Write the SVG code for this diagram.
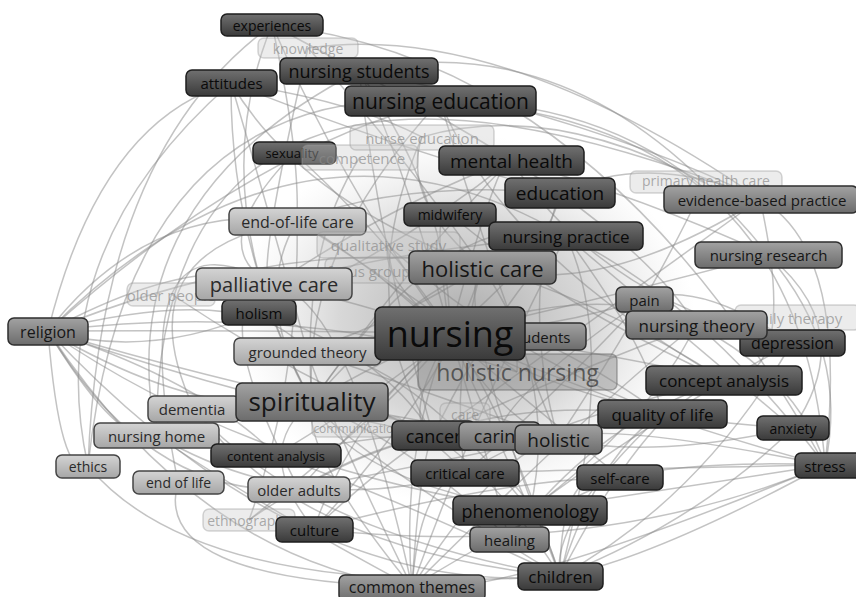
<svg xmlns="http://www.w3.org/2000/svg" width="856" height="597" viewBox="0 0 856 597">
<defs>
<linearGradient id="gd" x1="0" y1="0" x2="0" y2="1"><stop offset="0" stop-color="#707070"/><stop offset="1" stop-color="#3a3a3a"/></linearGradient>
<linearGradient id="gm" x1="0" y1="0" x2="0" y2="1"><stop offset="0" stop-color="#a2a2a2"/><stop offset="1" stop-color="#6c6c6c"/></linearGradient>
<linearGradient id="gl" x1="0" y1="0" x2="0" y2="1"><stop offset="0" stop-color="#d4d4d4"/><stop offset="1" stop-color="#a6a6a6"/></linearGradient>
<radialGradient id="tex" cx="0.5" cy="0.5" r="0.5"><stop offset="0" stop-color="#8a8a8a" stop-opacity="0.7"/><stop offset="0.55" stop-color="#a8a8a8" stop-opacity="0.45"/><stop offset="1" stop-color="#d0d0d0" stop-opacity="0"/></radialGradient>
<style>
text{font-family:"Open Sans","Noto Sans","DejaVu Sans",sans-serif;text-anchor:middle;dominant-baseline:central}
.d rect{fill:url(#gd);stroke:#1e1e1e;stroke-width:1.5}
.d text{fill:#0a0a0a}
.m rect{fill:url(#gm);stroke:#2e2e2e;stroke-width:1.5}
.m text{fill:#161616}
.l rect{fill:url(#gl);stroke:#444;stroke-width:1.5}
.l text{fill:#2a2a2a}
.f rect{fill:#c8c8c8;fill-opacity:0.35;stroke:#999;stroke-opacity:0.4;stroke-width:1.5}
.f text{fill:#8a8a8a;fill-opacity:0.7}
.h rect{fill:#8a8a8a;fill-opacity:0.45;stroke:#666;stroke-opacity:0.5;stroke-width:1.5}
.h text{fill:#3e3e3e;fill-opacity:0.8}
#edges path{fill:none;stroke:#888;stroke-width:1.5;stroke-opacity:0.5}
</style>
</defs>
<rect width="856" height="597" fill="#ffffff"/>
<ellipse cx="465" cy="320" rx="230" ry="185" fill="url(#tex)"/>
<g id="edges">
<path d="M48 331 Q150 200 297 221"/><path d="M48 331 Q200 250 274 284"/><path d="M48 331 Q250 330 450 333"/>
<path d="M48 331 Q200 420 312 402"/><path d="M48 331 Q120 450 156 435"/><path d="M48 331 Q150 500 299 489"/>
<path d="M48 331 Q250 150 440 101"/><path d="M48 331 Q300 230 482 267"/><path d="M48 331 Q200 560 412 587"/>
<path d="M48 331 Q300 600 560 576"/><path d="M48 331 Q350 420 558 439"/><path d="M48 331 Q100 120 231 83"/>
<path d="M48 331 Q300 80 566 236"/><path d="M48 331 Q250 280 307 351"/><path d="M48 331 Q60 480 88 466"/>
<path d="M48 331 Q150 360 259 312"/><path d="M48 331 Q250 400 433 435"/><path d="M48 331 Q300 300 517 372"/>
<path d="M48 331 Q250 470 530 510"/><path d="M48 331 Q200 380 276 455"/>
<path d="M88 466 Q40 250 231 83"/><path d="M88 466 Q100 150 272 25"/><path d="M156 435 Q110 200 359 71"/>
<path d="M178 482 Q150 580 412 587"/><path d="M88 466 Q200 600 560 576"/><path d="M194 409 Q120 250 297 221"/>
<path d="M156 435 Q160 -40 760 199"/><path d="M88 466 Q130 80 440 101"/><path d="M178 482 Q120 200 274 284"/>
<path d="M194 409 Q300 550 560 576"/><path d="M156 435 Q300 520 465 473"/>
<path d="M272 25 Q200 200 312 402"/><path d="M272 25 Q350 200 450 333"/><path d="M231 83 Q230 250 312 402"/>
<path d="M231 83 Q300 200 482 267"/><path d="M231 83 Q400 150 560 193"/><path d="M359 71 Q450 200 450 333"/>
<path d="M359 71 Q600 120 760 199"/><path d="M359 71 Q550 30 705 183"/><path d="M440 101 Q650 100 768 255"/>
<path d="M440 101 Q800 120 825 465"/><path d="M440 101 Q300 250 312 402"/><path d="M440 101 Q500 300 558 439"/>
<path d="M308 48 Q500 20 760 199"/><path d="M308 48 Q250 300 274 284"/><path d="M272 25 Q600 60 825 465"/>
<path d="M272 25 Q300 150 297 221"/><path d="M272 25 Q450 120 511 160"/><path d="M231 83 Q350 100 422 137"/>
<path d="M359 71 Q380 250 433 435"/><path d="M308 48 Q400 150 482 267"/><path d="M231 83 Q280 250 307 351"/>
<path d="M825 465 Q850 250 760 199"/><path d="M825 465 Q700 300 566 236"/><path d="M825 465 Q650 420 450 333"/>
<path d="M825 465 Q600 500 530 510"/><path d="M825 465 Q650 560 560 576"/><path d="M825 465 Q800 380 696 325"/>
<path d="M825 465 Q700 460 620 477"/><path d="M825 465 Q500 600 412 587"/><path d="M793 428 Q700 350 566 236"/>
<path d="M793 428 Q600 420 450 333"/><path d="M793 428 Q700 520 560 576"/><path d="M768 255 Q600 300 450 333"/>
<path d="M768 255 Q850 350 825 465"/><path d="M760 199 Q600 300 482 267"/><path d="M760 199 Q800 380 724 380"/>
<path d="M760 199 Q550 350 433 435"/><path d="M792 343 Q600 300 511 160"/><path d="M792 343 Q650 420 530 510"/>
<path d="M724 380 Q600 350 450 333"/><path d="M724 380 Q500 250 440 101"/><path d="M662 414 Q500 300 450 333"/>
<path d="M662 414 Q550 520 560 576"/><path d="M644 299 Q550 330 450 333"/><path d="M793 428 Q860 330 768 255"/>
<path d="M825 465 Q600 420 558 439"/><path d="M825 465 Q550 470 465 473"/><path d="M793 428 Q650 460 558 439"/>
<path d="M768 255 Q650 200 511 160"/><path d="M760 199 Q650 150 560 193"/><path d="M792 343 Q700 280 644 299"/>
<path d="M560 576 Q500 400 450 333"/><path d="M560 576 Q350 450 312 402"/><path d="M560 576 Q650 400 724 380"/>
<path d="M560 576 Q400 500 276 455"/><path d="M560 576 Q450 300 482 267"/><path d="M560 576 Q600 450 662 414"/>
<path d="M560 576 Q300 530 194 409"/><path d="M560 576 Q700 500 792 343"/><path d="M560 576 Q620 350 566 236"/>
<path d="M560 576 Q560 460 620 477"/><path d="M560 576 Q520 450 465 473"/><path d="M560 576 Q500 480 433 435"/>
<path d="M412 587 Q400 450 450 333"/><path d="M412 587 Q300 450 312 402"/><path d="M412 587 Q500 450 558 439"/>
<path d="M412 587 Q250 500 156 435"/><path d="M412 587 Q600 400 696 325"/><path d="M412 587 Q350 300 274 284"/>
<path d="M412 587 Q480 400 566 236"/><path d="M412 587 Q420 480 465 473"/><path d="M412 587 Q420 460 433 435"/>
<path d="M412 587 Q520 520 620 477"/><path d="M412 587 Q330 420 307 351"/>
<path d="M314 529 Q350 420 450 333"/><path d="M314 529 Q250 450 312 402"/><path d="M314 529 Q500 480 620 477"/>
<path d="M314 529 Q450 380 482 267"/><path d="M314 529 Q600 560 825 465"/><path d="M314 529 Q400 450 433 435"/>
<path d="M299 489 Q380 400 450 333"/><path d="M299 489 Q500 450 662 414"/><path d="M299 489 Q200 300 274 284"/>
<path d="M299 489 Q420 420 499 436"/><path d="M276 455 Q400 380 450 333"/><path d="M276 455 Q450 420 558 439"/>
<path d="M249 520 Q350 450 433 435"/><path d="M249 520 Q400 400 450 333"/><path d="M249 520 Q300 380 297 221"/>
<path d="M509 539 Q480 430 450 333"/><path d="M509 539 Q600 420 724 380"/><path d="M509 539 Q420 450 312 402"/>
<path d="M530 510 Q480 400 450 333"/><path d="M530 510 Q350 480 312 402"/><path d="M530 510 Q400 350 307 351"/>
<path d="M530 510 Q560 380 482 267"/><path d="M530 510 Q650 420 696 325"/>
<path d="M465 473 Q400 400 312 402"/><path d="M465 473 Q550 400 644 299"/><path d="M465 473 Q450 380 482 267"/>
<path d="M450 333 Q350 250 297 221"/><path d="M450 333 Q400 150 359 71"/><path d="M450 333 Q500 150 511 160"/>
<path d="M450 333 Q550 250 560 193"/><path d="M450 333 Q600 280 696 325"/><path d="M450 333 Q380 360 312 402"/>
<path d="M450 333 Q350 300 274 284"/><path d="M450 333 Q500 420 558 439"/><path d="M450 333 Q430 200 450 214"/>
<path d="M450 333 Q400 420 433 435"/><path d="M312 402 Q400 300 482 267"/><path d="M312 402 Q450 200 566 236"/>
<path d="M312 402 Q500 450 662 414"/><path d="M312 402 Q250 300 297 221"/><path d="M274 284 Q400 250 566 236"/>
<path d="M274 284 Q400 200 511 160"/><path d="M482 267 Q600 300 724 380"/><path d="M482 267 Q400 200 422 137"/>
<path d="M297 221 Q400 180 560 193"/><path d="M294 153 Q400 250 450 333"/><path d="M294 153 Q200 250 274 284"/>
<path d="M360 157 Q300 250 312 402"/><path d="M422 137 Q550 100 705 183"/><path d="M511 160 Q650 250 696 325"/>
<path d="M566 236 Q650 350 662 414"/><path d="M705 183 Q650 300 558 439"/><path d="M171 294 Q300 380 433 435"/>
<path d="M450 333 Q380 280 388 245"/><path d="M450 333 Q520 300 517 372"/><path d="M307 351 Q400 320 482 267"/>
<path d="M307 351 Q450 400 558 439"/><path d="M259 312 Q380 350 433 435"/><path d="M259 312 Q400 250 511 160"/>
<path d="M297 221 Q420 300 517 372"/><path d="M388 245 Q500 350 662 414"/><path d="M560 193 Q520 300 558 439"/>
<path d="M566 236 Q500 300 433 435"/><path d="M511 160 Q420 250 312 402"/><path d="M450 214 Q550 300 724 380"/>
<path d="M422 137 Q350 300 433 435"/><path d="M372 270 Q500 380 620 477"/><path d="M644 299 Q500 400 499 436"/>
<path d="M696 325 Q550 380 433 435"/><path d="M724 380 Q550 420 465 473"/><path d="M662 414 Q520 400 433 435"/>
</g>
<g id="n-knowledge" class="f"><rect x="258" y="38" width="100" height="20" rx="6"/><text x="308" y="48" font-size="14">knowledge</text></g>
<g id="n-experiences" class="d"><rect x="221" y="14" width="102" height="22" rx="6"/><text x="272" y="25" font-size="14">experiences</text></g>
<g id="n-attitudes" class="d"><rect x="186" y="70" width="91" height="26" rx="6"/><text x="231.5" y="83" font-size="15">attitudes</text></g>
<g id="n-nursing-students" class="d"><rect x="280" y="58" width="158" height="26" rx="6"/><text x="359" y="71" font-size="18">nursing students</text></g>
<g id="n-nursing-education" class="d"><rect x="345" y="86" width="191" height="30" rx="6"/><text x="440.5" y="101" font-size="21">nursing education</text></g>
<g id="n-sexuality" class="d"><rect x="253" y="142" width="83" height="22" rx="6"/><text x="292" y="153" font-size="13">sexuality</text></g>
<g id="n-competence" class="f"><rect x="302" y="145" width="116" height="25" rx="6"/><text x="362" y="157.5" font-size="15">competence</text></g>
<g id="n-nurse-education" class="f"><rect x="350" y="125" width="144" height="25" rx="6"/><text x="422" y="137.5" font-size="15">nurse education</text></g>
<g id="n-mental-health" class="d"><rect x="439" y="146" width="145" height="29" rx="6"/><text x="511.5" y="160.5" font-size="19">mental health</text></g>
<g id="n-education" class="d"><rect x="505" y="178" width="110" height="30" rx="6"/><text x="560" y="193" font-size="19">education</text></g>
<g id="n-primary-health-care" class="f"><rect x="630" y="171" width="152" height="22" rx="6"/><text x="706" y="180" font-size="14">primary health care</text></g>
<g id="n-evidence-based-practice" class="m"><rect x="664" y="186" width="194" height="27" rx="6"/><text x="762" y="200" font-size="15">evidence-based practice</text></g>
<g id="n-end-of-life-care" class="l"><rect x="229" y="208" width="137" height="27" rx="6"/><text x="297.5" y="221.5" font-size="16">end-of-life care</text></g>
<g id="n-midwifery" class="d"><rect x="404" y="203" width="92" height="23" rx="6"/><text x="450" y="214.5" font-size="14">midwifery</text></g>
<g id="n-nursing-practice" class="d"><rect x="489" y="222" width="154" height="28" rx="6"/><text x="566" y="236" font-size="17">nursing practice</text></g>
<g id="n-nursing-research" class="m"><rect x="695" y="242" width="147" height="26" rx="6"/><text x="768.5" y="255" font-size="15">nursing research</text></g>
<g id="n-qualitative-study" class="f"><rect x="317" y="232" width="143" height="26" rx="6"/><text x="388.5" y="245" font-size="15">qualitative study</text></g>
<g id="n-focus-groups" class="f"><rect x="325" y="258" width="95" height="25" rx="6"/><text x="372.5" y="270.5" font-size="15">focus groups</text></g>
<g id="n-holistic-care" class="m"><rect x="409" y="251" width="147" height="33" rx="6"/><text x="482.5" y="267.5" font-size="22">holistic care</text></g>
<g id="n-older-people" class="f"><rect x="127" y="283" width="88" height="23" rx="6"/><text x="171" y="294.5" font-size="15">older people</text></g>
<g id="n-holism" class="d"><rect x="222" y="300" width="74" height="25" rx="6"/><text x="259" y="312.5" font-size="15">holism</text></g>
<g id="n-palliative-care" class="l"><rect x="196" y="268" width="156" height="32" rx="6"/><text x="274" y="284" font-size="20">palliative care</text></g>
<g id="n-religion" class="m"><rect x="8" y="318" width="80" height="27" rx="6"/><text x="48" y="331.5" font-size="16">religion</text></g>
<g id="n-grounded-theory" class="l"><rect x="234" y="338" width="147" height="27" rx="6"/><text x="307.5" y="351.5" font-size="15">grounded theory</text></g>
<g id="n-pain" class="m"><rect x="616" y="287" width="57" height="25" rx="6"/><text x="644.5" y="299.5" font-size="15">pain</text></g>
<g id="n-family-therapy" class="f"><rect x="735" y="305" width="125" height="25" rx="6"/><text x="792" y="317.5" font-size="15">family therapy</text></g>
<g id="n-depression" class="d"><rect x="740" y="330" width="105" height="26" rx="6"/><text x="792.5" y="343" font-size="16">depression</text></g>
<g id="n-nursing-theory" class="m"><rect x="626" y="311" width="141" height="28" rx="6"/><text x="696.5" y="325" font-size="17">nursing theory</text></g>
<g id="n-students" class="m"><rect x="468" y="323" width="118" height="27" rx="6"/><text x="540" y="336.5" font-size="15">students</text></g>
<g id="n-holistic-nursing" class="h"><rect x="418" y="354" width="199" height="36" rx="6"/><text x="517.5" y="372" font-size="23">holistic nursing</text></g>
<g id="n-nursing" class="d"><rect x="375" y="307" width="150" height="53" rx="7"/><text x="450" y="333.5" font-size="36">nursing</text></g>
<g id="n-concept-analysis" class="d"><rect x="646" y="366" width="156" height="29" rx="6"/><text x="724" y="380.5" font-size="17">concept analysis</text></g>
<g id="n-dementia" class="l"><rect x="148" y="396" width="92" height="26" rx="6"/><text x="192" y="409" font-size="15">dementia</text></g>
<g id="n-communication" class="f"><rect x="312" y="417" width="90" height="20" rx="6"/><text x="357" y="428" font-size="12">communication</text></g>
<g id="n-care" class="f"><rect x="440" y="403" width="50" height="22" rx="6"/><text x="465" y="414" font-size="14">care</text></g>
<g id="n-spirituality" class="m"><rect x="236" y="383" width="152" height="38" rx="6"/><text x="312" y="401" font-size="26">spirituality</text></g>
<g id="n-nursing-home" class="l"><rect x="94" y="423" width="125" height="25" rx="6"/><text x="156.5" y="435.5" font-size="15">nursing home</text></g>
<g id="n-content-analysis" class="d"><rect x="211" y="444" width="130" height="23" rx="6"/><text x="276" y="455.5" font-size="13">content analysis</text></g>
<g id="n-ethics" class="l"><rect x="56" y="455" width="64" height="23" rx="6"/><text x="88" y="466.5" font-size="14">ethics</text></g>
<g id="n-end-of-life" class="l"><rect x="133" y="471" width="91" height="23" rx="6"/><text x="178.5" y="482.5" font-size="14">end of life</text></g>
<g id="n-older-adults" class="l"><rect x="248" y="477" width="102" height="25" rx="6"/><text x="299" y="489.5" font-size="15">older adults</text></g>
<g id="n-quality-of-life" class="d"><rect x="598" y="400" width="129" height="28" rx="6"/><text x="662.5" y="414" font-size="17">quality of life</text></g>
<g id="n-anxiety" class="d"><rect x="757" y="416" width="72" height="24" rx="6"/><text x="793" y="428" font-size="14">anxiety</text></g>
<g id="n-stress" class="d"><rect x="795" y="453" width="66" height="25" rx="6"/><text x="825" y="465.5" font-size="15">stress</text></g>
<g id="n-cancer" class="d"><rect x="392" y="421" width="83" height="29" rx="6"/><text x="433.5" y="435.5" font-size="18">cancer</text></g>
<g id="n-caring" class="m"><rect x="459" y="422" width="81" height="28" rx="6"/><text x="499.5" y="436" font-size="18">caring</text></g>
<g id="n-holistic" class="m"><rect x="515" y="425" width="87" height="29" rx="6"/><text x="558.5" y="439.5" font-size="19">holistic</text></g>
<g id="n-critical-care" class="d"><rect x="411" y="460" width="108" height="26" rx="6"/><text x="465" y="473" font-size="15">critical care</text></g>
<g id="n-self-care" class="d"><rect x="577" y="465" width="86" height="25" rx="6"/><text x="620" y="477.5" font-size="15">self-care</text></g>
<g id="n-ethnography" class="f"><rect x="203" y="509" width="92" height="22" rx="6"/><text x="249" y="520" font-size="14">ethnography</text></g>
<g id="n-culture" class="d"><rect x="276" y="517" width="77" height="25" rx="6"/><text x="314.5" y="529.5" font-size="15">culture</text></g>
<g id="n-phenomenology" class="d"><rect x="453" y="496" width="154" height="29" rx="6"/><text x="530" y="510.5" font-size="18">phenomenology</text></g>
<g id="n-healing" class="m"><rect x="470" y="527" width="79" height="25" rx="6"/><text x="509.5" y="539.5" font-size="15">healing</text></g>
<g id="n-children" class="d"><rect x="518" y="563" width="85" height="27" rx="6"/><text x="560.5" y="576.5" font-size="17">children</text></g>
<g id="n-common-themes" class="m"><rect x="339" y="575" width="146" height="26" rx="6"/><text x="412" y="587" font-size="16">common themes</text></g>
</svg>
